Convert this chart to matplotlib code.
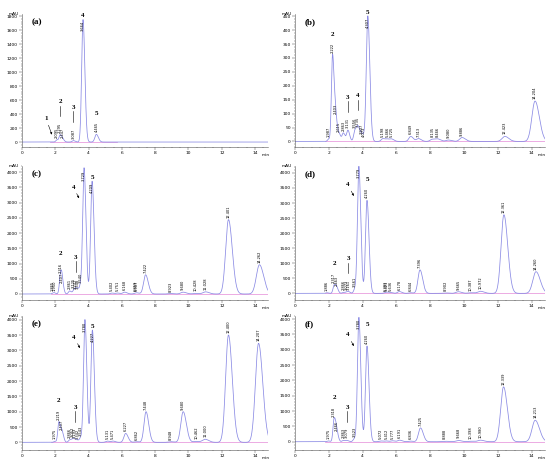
import numpy as np
import matplotlib
matplotlib.use("Agg")
import matplotlib.pyplot as plt
from matplotlib.ticker import MultipleLocator, AutoMinorLocator

# retention times (min) and peak heights (mAU)
rt_a = [2.095, 2.295, 2.447, 3.087, 3.664, 4.465]
h_a = [30, 100, 35, 20, 1750, 110]
rt_b = [1.987, 2.222, 2.403, 2.615, 2.863, 3.131, 3.556, 3.735, 3.937, 4.073,
        4.307, 5.198, 5.466, 5.725, 6.849, 7.313, 8.135, 8.466, 9.080, 9.886,
        12.423, 14.204]
h_b = [8, 310, 90, 25, 30, 40, 40, 45, 20, 10, 450, 10, 8, 8, 18, 10, 8, 8,
       5, 14, 18, 145]
rt_c = [1.865, 1.950, 2.316, 2.407, 2.861, 3.125, 3.237, 3.348, 3.540, 3.729,
        4.209, 5.402, 5.751, 6.168, 6.859, 6.907, 7.422, 8.923, 9.680, 10.428,
        11.028, 12.401, 14.262]
h_c = [30, 25, 620, 300, 100, 120, 100, 110, 280, 4080, 3700, 30, 30, 60, 20,
       20, 630, 15, 60, 20, 70, 2440, 960]
rt_d = [1.886, 2.317, 2.463, 2.866, 3.073, 3.161, 3.561, 3.779, 4.260, 5.383,
        5.421, 5.636, 6.178, 6.844, 7.396, 8.902, 9.665, 10.387, 10.972,
        12.361, 14.260]
h_d = [20, 270, 180, 30, 40, 40, 160, 4200, 3090, 20, 20, 25, 60, 20, 780,
       15, 55, 20, 70, 2610, 720]
rt_e = [1.975, 2.219, 2.407, 2.866, 3.052, 3.193, 3.342, 3.543, 3.780, 4.227,
        5.131, 5.471, 6.227, 6.862, 7.448, 8.948, 9.680, 10.462, 11.000,
        12.400, 14.207]
h_e = [30, 670, 330, 80, 100, 60, 50, 150, 3990, 3660, 40, 40, 290, 20, 1000,
       20, 1000, 30, 100, 3500, 3230]
rt_f = [1.975, 2.318, 2.466, 2.863, 3.079, 3.523, 3.780, 4.260, 5.072, 5.412,
        5.777, 6.191, 6.836, 7.425, 8.888, 9.668, 10.398, 10.980, 12.339,
        14.213]
h_f = [25, 750, 300, 40, 40, 100, 4050, 3120, 25, 25, 30, 50, 20, 450, 15,
       40, 15, 50, 1790, 700]

# numbered compounds
cmp_a = ['1', '2', '3', '4', '5']
cmp_a_rt = [2.095, 2.295, 3.087, 3.664, 4.465]
cmp_b = ['2', '3', '4', '5']
cmp_b_rt = [2.222, 3.131, 3.735, 4.307]
cmp_c = ['2', '3', '4', '5']
cmp_c_rt = [2.316, 3.237, 3.729, 4.209]
cmp_d = ['2', '3', '4', '5']
cmp_d_rt = [2.317, 3.161, 3.779, 4.260]
cmp_e = ['2', '3', '4', '5']
cmp_e_rt = [2.219, 3.193, 3.780, 4.227]
cmp_f = ['2', '3', '4', '5']
cmp_f_rt = [2.318, 3.079, 3.780, 4.260]

# integration baseline span (min)
base_a = [1.7, 5.7]
base_other = [1.75, 14.8]

BLUE = "#8a8ae4"
PINK = "#e58ad8"
SERIF = "Liberation Serif"
XMAX = 14.8

t = np.linspace(0, XMAX, 5000)


def trace(rts, hs):
    y = np.zeros_like(t)
    for r, h in zip(rts, hs):
        s = 0.045 + 0.01 * r
        sig = np.where(t < r, s, s * 1.35)
        y += h * np.exp(-0.5 * ((t - r) / sig) ** 2)
    return y


def panel(ax, name, rts, hs, cmps, cmp_rts, ylim, ystep, base,
          arrows, leaders):
    ax.plot(base, [0, 0], color=PINK, lw=0.5)
    ax.plot(t, trace(rts, hs), color=BLUE, lw=0.55)
    ax.set_xlim(0, XMAX)
    ax.set_ylim(*ylim)
    span = ylim[1] - ylim[0]
    for s in ["top", "right"]:
        ax.spines[s].set_visible(False)
    for s in ["left", "bottom"]:
        ax.spines[s].set_linewidth(0.4)
        ax.spines[s].set_color("#555555")
    ax.xaxis.set_major_locator(MultipleLocator(2))
    ax.xaxis.set_minor_locator(AutoMinorLocator(4))
    ax.yaxis.set_major_locator(MultipleLocator(ystep))
    ax.yaxis.set_minor_locator(AutoMinorLocator(5))
    ax.tick_params(which="both", labelsize=3.2, width=0.35, pad=1,
                   color="#555555")
    ax.tick_params(which="major", length=2)
    ax.tick_params(which="minor", length=1)
    ax.text(-0.012, 1.0, "mAU", transform=ax.transAxes, ha="right",
            va="center", fontsize=3.2)
    ax.text(0.972, -0.045, "min", transform=ax.transAxes, ha="left",
            va="top", fontsize=3.2)
    ax.text(0.04, 0.97, name, transform=ax.transAxes, ha="left", va="top",
            fontsize=6.5, fontweight="bold", family=SERIF)

    tops = {}
    for r, h in zip(rts, hs):
        if h > 0.85 * ylim[1]:
            ax.text(r, h - 0.01 * span, "%.3f" % r, rotation=90, ha="center",
                    va="top", fontsize=2.6, clip_on=False)
            tops[r] = h
        else:
            ax.text(r, h + 0.015 * span, "%.3f" % r, rotation=90,
                    ha="center", va="bottom", fontsize=2.6)
            tops[r] = h + 0.13 * span

    for c, r in zip(cmps, cmp_rts):
        h = hs[rts.index(r)]
        if c in arrows:
            big = h > 1000
            ax.annotate(c, xy=(r - 0.3, 0.77 * h if big else h + 0.04 * span),
                        xytext=(r - 0.65, 0.86 * h if big else h + 0.16 * span),
                        fontsize=5, fontweight="bold", family=SERIF,
                        ha="center", va="center",
                        arrowprops=dict(arrowstyle="-|>", lw=0.4, color="k",
                                        mutation_scale=3, shrinkA=1,
                                        shrinkB=0))
        elif c in leaders:
            y0 = tops[r]
            ax.plot([r, r], [y0 + 0.01 * span, y0 + 0.09 * span], color="k",
                    lw=0.4)
            ax.text(r, y0 + 0.1 * span, c, ha="center", va="bottom",
                    fontsize=5, fontweight="bold", family=SERIF)
        else:
            y0 = tops[r]
            if h > 0.85 * ylim[1]:
                y0 = h
            ax.text(r, y0 + 0.01 * span, c, ha="center", va="bottom",
                    fontsize=5, fontweight="bold", family=SERIF,
                    clip_on=False)


def main():
    fig = plt.figure(figsize=(5.5, 4.62), dpi=100)
    W, H = 550.0, 462.0
    rows = [(14, 147), (166, 300), (316, 450)]

    def add(col, row):
        top, bot = rows[row]
        x0 = 22 if col == 0 else 295
        px = 16.65 if col == 0 else 16.9
        return fig.add_axes([x0 / W, 1 - bot / H, XMAX * px / W,
                             (bot - top) / H])

    panel(add(0, 0), "(a)", rt_a, h_a, cmp_a, cmp_a_rt, (-71, 1830), 200,
          base_a, ["1"], ["2", "3"])
    panel(add(1, 0), "(b)", rt_b, h_b, cmp_b, cmp_b_rt, (-20, 458), 50,
          base_other, [], ["3", "4"])
    panel(add(0, 1), "(c)", rt_c, h_c, cmp_c, cmp_c_rt, (-197, 4200), 500,
          base_other, ["4"], ["3"])
    panel(add(1, 1), "(d)", rt_d, h_d, cmp_d, cmp_d_rt, (-220, 4230), 500,
          base_other, ["4"], ["3"])
    panel(add(0, 2), "(e)", rt_e, h_e, cmp_e, cmp_e_rt, (-250, 4120), 500,
          base_other, ["4"], ["3"])
    panel(add(1, 2), "(f)", rt_f, h_f, cmp_f, cmp_f_rt, (-270, 4100), 500,
          base_other, ["4"], ["3"])

    fig.savefig("out.png", dpi=100)
    plt.close(fig)


if __name__ == "__main__":
    main()
